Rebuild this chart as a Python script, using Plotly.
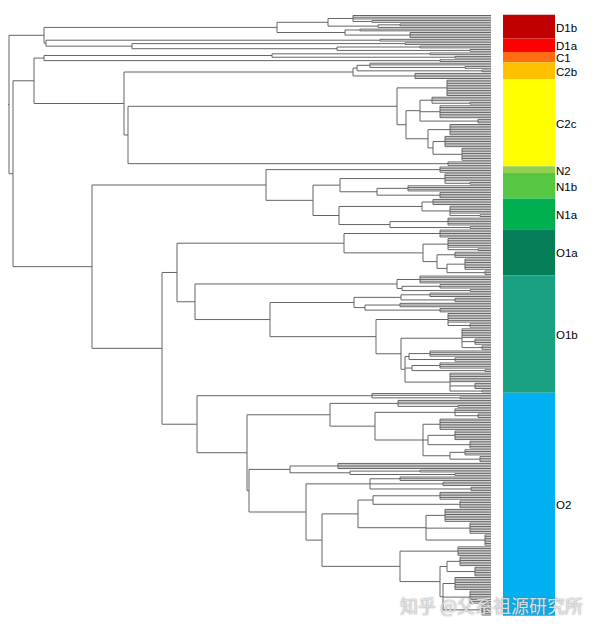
import plotly.graph_objects as go

# ---------------- data ----------------
# Tree nodes: [depth_x, child, child, ...]; an int child k = k leaves hanging from that node.
D1B = [277, [328, [353, 3, [372, 2]], [378, [400, 2], 1]], [345, [360, 2], [410, 4]]]
D1A = [46, [380, 2], [132, [405, 2], [337, [420, 2], [470, 2]]]]
C1 = [44, [272, [430, 2], [455, 2]], [440, 2]]
C2B = [353, [357, [370, 2, [465, 2]], [482, 2]], [415, 4]]
C2C = [128,
       [397, [447, 10],
        [406, [420, [432, 3, [470, 2]], [440, 8], [478, 3]],
         [428, [450, 7], [433, [445, 7], [462, 8]]]]],
       [448, 3]]
N2 = [440, 4]
N1B = [340, [445, 5, [470, 2]], [377, [408, 4], [440, 4]]]
N1A = [339, [422, [433, 4], [450, 5, [480, 2]]], [390, [448, 5], [470, 2]]]
O1A = [344, [440, 5], [423, [448, 6, [478, 2]], [437, [455, 4], [447, [465, 7], [485, 3]]]]]
O1B = [195,
       [397, [420, 5], [402, [440, 3], [470, 2]]],
       [270,
        [354, [401, [430, 3], [455, 3]], [365, [400, 3], [440, 3]]],
        [376,
         [448, 6, [470, 3]],
         [401,
          [462, 6, [475, 4], [482, 3]],
          [405, [409, [430, 4], [455, 3]], [412, [440, 4], [485, 2]], [450, 6, [475, 4], [482, 2]]]]]]]
O2 = [197,
      [372, 2, [460, 2]],
      [247,
       [330, [398, 3, [458, 2]],
        [375, [455, 3, [478, 3]],
         [423, [440, 7], [428, [455, 6], [470, 5]], [450, [465, 4], [480, 4]]]]],
       [249,
        [290, [338, 4], [350, [420, 2], [455, 2]]],
        [306,
         [370, [400, 3], [443, 3], [471, 3]],
         [322,
          [358, [373, [440, 5], [460, 5]], [426, [445, 8], [470, 7], [485, 7]]],
          [400, [458, 6], [440, [447, [460, 6], [475, 6]], [443, [455, 8], [470, 8], [482, 7]]]]]]]]]

TREE = [9, [44, D1B, D1A],
        [13, [34, C1, [124, C2B, C2C]],
         [92, [266, N2, [313, N1B, N1A]],
          [162, [177, O1A, O1B], O2]]]]

GROUP_NAMES = ["D1b", "D1a", "C1", "C2b", "C2c", "N2", "N1b", "N1a", "O1a", "O1b", "O2"]
GROUP_TREES = [D1B, D1A, C1, C2B, C2C, N2, N1B, N1A, O1A, O1B, O2]
GROUP_COLORS = ["#C00000", "#FF0000", "#FF6C12", "#FFC000", "#FFFF00", "#92D050",
                "#55C743", "#00B050", "#057F57", "#1AA181", "#00B0F0"]
WATERMARK = "知乎 @父系祖源研究所"

# ---------------- layout constants ----------------
TIP_X = 491
BAR_X0, BAR_W = 503, 52
LABEL_X = 554
PAGE_W, PAGE_H = 600, 630
OFF = 8                      # default page body margin
W, H = PAGE_W - OFF, PAGE_H - OFF
TOP_PX, BOT_PX = 15.5, 615.0


def n_leaves(node):
    return sum(c if isinstance(c, int) else n_leaves(c) for c in node[1:])


def build(node, xs, ys, counter):
    x = node[0]
    cy_list = []
    for ch in node[1:]:
        if isinstance(ch, int):
            for _ in range(ch):
                y = counter[0]
                counter[0] += 1
                xs += [x, TIP_X, None]
                ys += [y, y, None]
                cy_list.append(y)
        else:
            cy = build(ch, xs, ys, counter)
            xs += [x, ch[0], None]
            ys += [cy, cy, None]
            cy_list.append(cy)
    xs += [x, x, None]
    ys += [min(cy_list), max(cy_list), None]
    return (cy_list[0] + cy_list[-1]) / 2


xs, ys = [], []
counter = [0]
root_y = build(TREE, xs, ys, counter)
xs += [OFF, TREE[0], None]
ys += [root_y, root_y, None]
N = counter[0]
s = (BOT_PX - TOP_PX) / (N - 1)

counts = [n_leaves(t) for t in GROUP_TREES]
starts = []
acc = 0
for c in counts:
    starts.append(acc)
    acc += c
centers = [st + (c - 1) / 2 for st, c in zip(starts, counts)]

fig = go.Figure()
fig.add_trace(go.Scatter(x=xs, y=ys, mode="lines",
                         line=dict(color="#646464", width=1),
                         hoverinfo="skip", showlegend=False, cliponaxis=False))
fig.add_trace(go.Bar(orientation="h", y=centers, x=[BAR_W] * len(counts), base=BAR_X0,
                     width=counts, marker=dict(color=GROUP_COLORS, line=dict(width=0)),
                     showlegend=False, hoverinfo="skip"))

for name, cy in zip(GROUP_NAMES, centers):
    fig.add_annotation(x=LABEL_X, y=cy, text=name, showarrow=False, xanchor="left",
                       yanchor="middle", yshift=-1,
                       font=dict(family="Liberation Sans", size=11.5, color="#000000"))

fig.add_annotation(x=585, y=1 - (605 - OFF) / H, xref="x", yref="paper", text=WATERMARK,
                   showarrow=False, xanchor="right", yanchor="middle",
                   font=dict(family="Noto Sans CJK SC", size=18, color="rgba(235,235,235,0.9)",
                             shadow="0px 0px 1.5px #6f6f6f"))

fig.update_layout(width=W, height=H, margin=dict(l=0, r=0, t=0, b=0),
                  plot_bgcolor="white", paper_bgcolor="white", showlegend=False,
                  xaxis=dict(range=[OFF, PAGE_W], visible=False, fixedrange=True),
                  yaxis=dict(range=[(PAGE_H - TOP_PX) / s, (OFF - TOP_PX) / s],
                             visible=False, fixedrange=True))
fig.write_html("out.html")
